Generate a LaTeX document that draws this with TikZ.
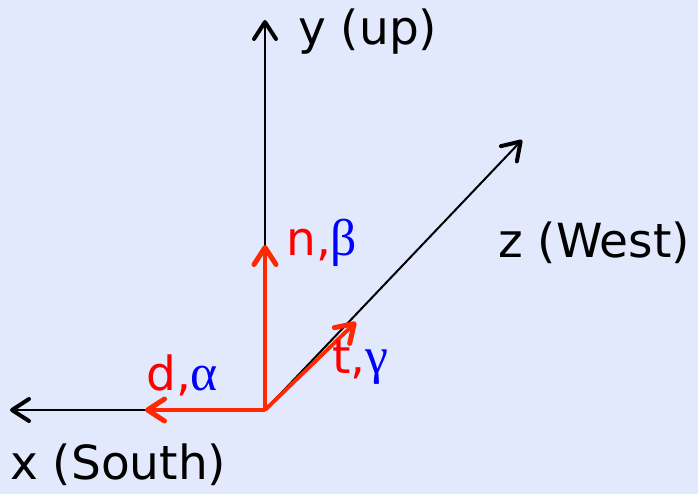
\documentclass[tikz,border=0pt]{standalone}
\usepackage{fontspec}
\setmainfont{DejaVu Sans}
\newfontfamily\greekfont[Scale=1.1]{Liberation Serif}
\usetikzlibrary{arrows.meta}
\definecolor{bgblue}{RGB}{227,233,252}
\definecolor{vecred}{RGB}{255,40,0}

\begin{document}
\begin{tikzpicture}[x=1pt, y=-1pt, font=\fontsize{47}{54}\selectfont,
  axis/.style={line width=2pt, -{Straight Barb[length=17pt, width=22pt, line width=4pt, round]}},
  vec/.style={line width=3.8pt, color=vecred, -{Straight Barb[length=17pt, width=22pt, line width=5pt, round]}}]
  \fill[bgblue] (0,0) rectangle (698,494);
  \coordinate (O) at (265,410);
  \coordinate (xtip) at (10,410);
  \coordinate (ytip) at (265,20);
  \coordinate (ztip) at (522,140);
  \coordinate (ntip) at (265,245);
  \coordinate (dtip) at (145,410);
  \coordinate (ttip) at (356,322);
  \draw[axis] (O) -- (xtip);
  \draw[axis] (O) -- (ytip);
  \draw[axis] (O) -- (ztip);
  \draw[vec] (O) -- (ntip);
  \draw[vec] (O) -- (dtip);
  \draw[vec] (O) -- (ttip);
  \node[anchor=west, inner sep=0pt] (ylab) at (298,32) {y (up)};
  \node[anchor=west, inner sep=0pt] (zlab) at (498,243) {z (West)};
  \node[anchor=west, inner sep=0pt] (xlab) at (10,465) {x (South)};
  \node[anchor=west, inner sep=0pt] (nlab) at (286,243) {\textcolor{red}{n,}\textcolor{blue}{\greekfont β}};
  \node[anchor=west, inner sep=0pt] (dlab) at (146,375) {\textcolor{red}{d,}\textcolor{blue}{\greekfont α}};
  \node[anchor=west, inner sep=0pt] (tlab) at (332,363) {\textcolor{red}{t,}\textcolor{blue}{\greekfont γ}};
\end{tikzpicture}
\end{document}
